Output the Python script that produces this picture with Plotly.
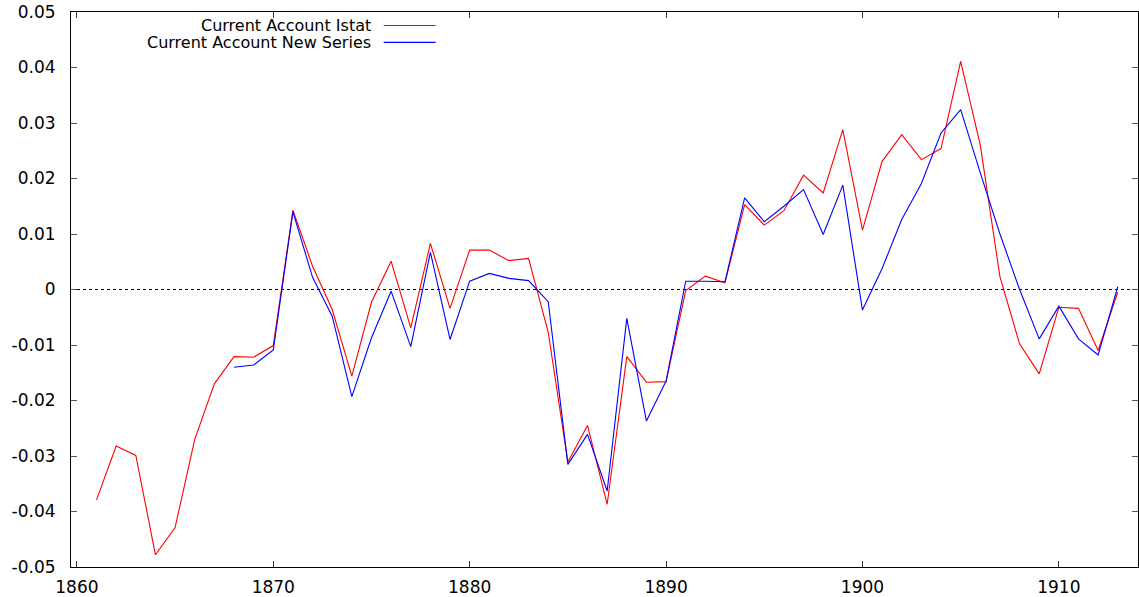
import plotly.graph_objects as go

years_istat = list(range(1861, 1914))
istat = [-0.0379, -0.0282, -0.0299, -0.0478, -0.0429, -0.0270, -0.0170, -0.0121, -0.0122, -0.0101,
         0.0143, 0.0042, -0.0036, -0.0156, -0.0023, 0.0051, -0.0069, 0.0083, -0.0034, 0.0071,
         0.0071, 0.0052, 0.0056, -0.0077, -0.0311, -0.0245, -0.0387, -0.0121, -0.0167, -0.0166,
         -0.0002, 0.0024, 0.0012, 0.0153, 0.0116, 0.0142, 0.0206, 0.0174, 0.0288, 0.0107,
         0.0231, 0.0279, 0.0234, 0.0254, 0.0411, 0.0260, 0.0023, -0.0098, -0.0152, -0.0032,
         -0.0034, -0.0110, -0.0005]

years_new = list(range(1868, 1914))
new_series = [-0.0140, -0.0136, -0.0109,
              0.0140, 0.0022, -0.0048, -0.0193, -0.0087, -0.0003, -0.0103, 0.0067, -0.0090, 0.0015,
              0.0029, 0.0020, 0.0016, -0.0022, -0.0315, -0.0261, -0.0363, -0.0052, -0.0237, -0.0165,
              0.0015, 0.0015, 0.0014, 0.0165, 0.0122, 0.0150, 0.0180, 0.0099, 0.0188, -0.0037,
              0.0038, 0.0126, 0.0191, 0.0282, 0.0324, 0.0210, 0.0100, 0.0000, -0.0089, -0.0030,
              -0.0089, -0.0118, 0.0005]

y_ticks = [-0.05, -0.04, -0.03, -0.02, -0.01, 0, 0.01, 0.02, 0.03, 0.04, 0.05]
y_labels = ["-0.05", "-0.04", "-0.03", "-0.02", "-0.01", "0", "0.01", "0.02", "0.03", "0.04", "0.05"]
x_ticks = [1860, 1870, 1880, 1890, 1900, 1910]
x_labels = ["1860", "1870", "1880", "1890", "1900", "1910"]
legend_names = ["Current Account Istat", "Current Account New Series"]

W, H = 1139, 597
ML, MR, MT, MB = 71, 0, 12, 28
PW, PH = W - ML - MR, H - MT - MB

def px(x):
    return (x - ML) / PW

def py(y):
    return 1 - (y - MT) / PH

FONT = "DejaVu Sans"
FS = 16

fig = go.Figure()
fig.add_trace(go.Scatter(x=years_istat, y=istat, mode="lines", name=legend_names[0],
                         line=dict(color="#ff0000", width=1.1), showlegend=False))
fig.add_trace(go.Scatter(x=years_new, y=new_series, mode="lines", name=legend_names[1],
                         line=dict(color="#0000ff", width=1.1), showlegend=False))

shapes = [dict(type="line", xref="paper", yref="y", x0=0, x1=1, y0=0, y1=0,
               line=dict(color="black", width=1, dash="dot"), layer="below")]
annotations = []
colors = ["#ff0000", "#0000ff"]
rows = [25.5, 42.5]
for name, c, ry in zip(legend_names, colors, rows):
    annotations.append(dict(text=name, xref="paper", yref="paper", x=px(373), y=py(ry),
                            xanchor="right", yanchor="middle", showarrow=False,
                            font=dict(family=FONT, size=FS, color="black")))
    shapes.append(dict(type="line", xref="paper", yref="paper", x0=px(384), x1=px(436),
                       y0=py(ry), y1=py(ry), line=dict(color=c, width=1.1)))

fig.update_layout(
    width=W, height=H,
    margin=dict(l=ML, r=MR, t=MT, b=MB, pad=0),
    paper_bgcolor="white", plot_bgcolor="white",
    font=dict(family=FONT, size=17, color="black"),
    shapes=shapes, annotations=annotations,
    showlegend=False,
    xaxis=dict(range=[1859.7, 1914.03], tickvals=x_ticks, ticktext=x_labels,
               ticks="inside", ticklen=6, tickcolor="#333", showline=True, linecolor="black",
               linewidth=1, mirror="ticks", showgrid=False, zeroline=False,
               ticklabelstandoff=5),
    yaxis=dict(range=[-0.05, 0.05], tickvals=y_ticks, ticktext=y_labels,
               ticks="inside", ticklen=6, tickcolor="#555", showline=True, linecolor="black",
               linewidth=1, mirror="ticks", showgrid=False, zeroline=False,
               ticklabelstandoff=11),
)

fig.write_html("out.html", config={"displayModeBar": False},
               post_script="document.body.style.margin='0';document.body.style.overflow='hidden';")
